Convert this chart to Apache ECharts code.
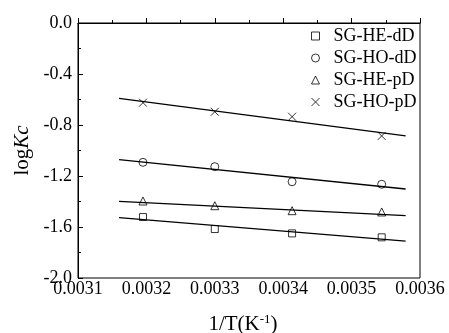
<!DOCTYPE html>
<html>
<head>
<meta charset="utf-8">
<script src="https://cdn.jsdelivr.net/npm/echarts@6/dist/echarts.min.js"></script>
<style>
  html, body { margin: 0; padding: 0; background: #fff; }
  #chart { width: 449px; height: 333px; }
</style>
</head>
<body>
<div id="chart"></div>
<script>
// 1/T 数据点
var invT = [0.003195, 0.0033, 0.003413, 0.003544]

// 各组 logKc
var heDD = [-1.522, -1.616, -1.650, -1.681]
var hoDD = [-1.093, -1.127, -1.245, -1.265]
var hePD = [-1.396, -1.433, -1.472, -1.482]
var hoPD = [-0.625, -0.696, -0.735, -0.886]

// 拟合直线两端
var fitX = [0.00316, 0.003579]
var fitHeDD = [-1.527, -1.710]
var fitHoDD = [-1.072, -1.302]
var fitHePD = [-1.399, -1.511]
var fitHoPD = [-0.591, -0.886]

var names = ['SG-HE-dD', 'SG-HO-dD', 'SG-HE-pD', 'SG-HO-pD']
var symbols = ['rect', 'circle', 'triangle', 'path://M0,0L10,10M10,0L0,10']
var sizes = [7, 8, 8, 8]

var fontFamily = '"Liberation Serif", "Times New Roman", serif'

function pairs(xs, ys) {
  return xs.map(function (x, i) { return [x, ys[i]] })
}

var pointSets = [heDD, hoDD, hePD, hoPD]
var fitSets = [fitHeDD, fitHoDD, fitHePD, fitHoPD]

var series = []
// 散点
pointSets.forEach(function (ys, i) {
  series.push({
    name: names[i],
    type: 'scatter',
    symbol: symbols[i],
    symbolSize: sizes[i],
    itemStyle: { color: 'rgba(0,0,0,0)', borderColor: '#000', borderWidth: 1 },
    data: pairs(invT, ys),
    z: 3
  })
})
// 拟合线
fitSets.forEach(function (ys) {
  series.push({
    type: 'line',
    showSymbol: false,
    symbol: 'none',
    silent: true,
    lineStyle: { color: '#000', width: 1.3 },
    data: pairs(fitX, ys),
    z: 2
  })
})

var myChart = echarts.init(document.getElementById('chart'))

var option = {
  animation: false,
  textStyle: { fontFamily: fontFamily, color: '#000' },
  grid: {
    left: 78, right: 29, top: 23, bottom: 55,
    containLabel: false,
    outerBoundsMode: 'none', // 不让 v6 自动收缩绘图区
    show: true, borderColor: '#000', borderWidth: 1
  },
  legend: {
    data: names.map(function (n, i) {
      return { name: n, icon: symbols[i] }
    }),
    orient: 'vertical',
    left: 306,
    top: 22,
    itemWidth: 8,
    itemHeight: 8,
    itemGap: 4,
    textStyle: { fontFamily: fontFamily, fontSize: 18, color: '#000', padding: [0, 0, 0, 9] },
    itemStyle: { color: 'rgba(0,0,0,0)', borderColor: '#000', borderWidth: 1 }
  },
  xAxis: {
    type: 'value',
    min: 0.0031,
    max: 0.0036,
    interval: 0.0001,
    name: '1/T(K{s|-1})',
    nameLocation: 'middle',
    nameGap: 35,
    nameTextStyle: {
      fontFamily: fontFamily, fontSize: 21, color: '#000', padding: [0, 12, 0, 0],
      rich: { s: { fontFamily: fontFamily, fontSize: 13, padding: [0, 0, 10, 0] } }
    },
    axisLine: { lineStyle: { color: '#000' } },
    axisTick: { inside: true, length: 5, lineStyle: { color: '#000' } },
    minorTick: { show: true, splitNumber: 2, length: 3, lineStyle: { color: '#000' } },
    splitLine: { show: false },
    axisLabel: {
      color: '#000', fontSize: 18, fontFamily: fontFamily, margin: 2,
      formatter: function (v) { return v.toFixed(4) }
    }
  },
  yAxis: {
    type: 'value',
    min: -2,
    max: 0,
    interval: 0.4,
    name: 'log{i|Kc}',
    nameLocation: 'middle',
    nameRotate: 90,
    nameGap: 39,
    nameTextStyle: {
      fontFamily: fontFamily, fontSize: 21, color: '#000',
      rich: { i: { fontFamily: fontFamily, fontSize: 21, fontStyle: 'italic' } }
    },
    axisLine: { show: true, lineStyle: { color: '#000' } },
    axisTick: { inside: true, length: 5, lineStyle: { color: '#000' } },
    minorTick: { show: true, splitNumber: 2, length: 3, lineStyle: { color: '#000' } },
    splitLine: { show: false },
    axisLabel: {
      color: '#000', fontSize: 18, fontFamily: fontFamily, margin: 6,
      formatter: function (v) { return v.toFixed(1) }
    }
  },
  series: series
}

myChart.setOption(option, true)
</script>
</body>
</html>
